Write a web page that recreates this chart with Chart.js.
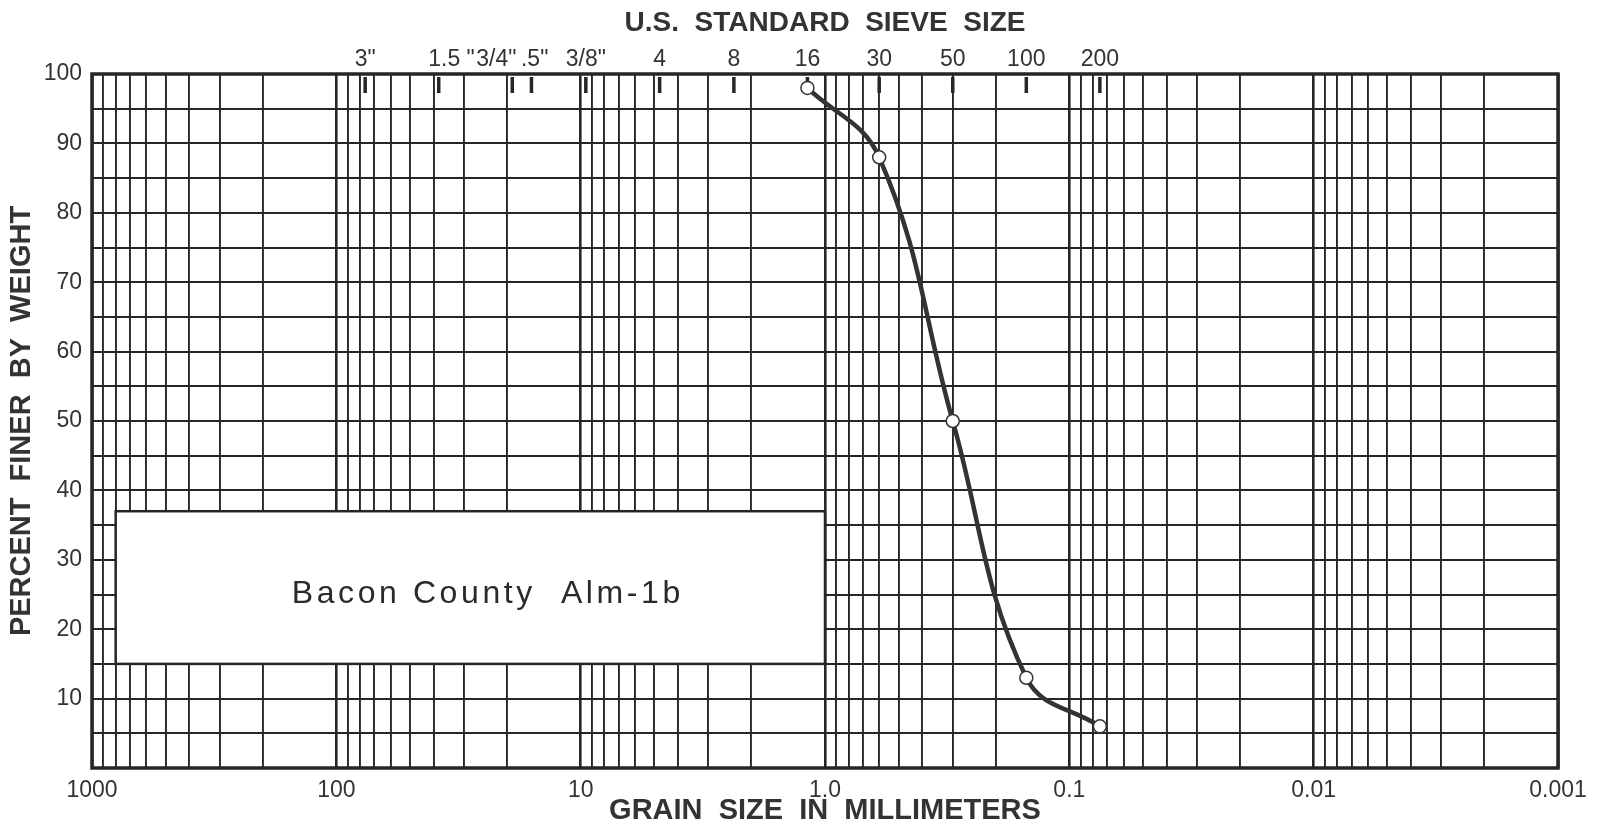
<!DOCTYPE html>
<html><head><meta charset="utf-8">
<script src="https://cdn.jsdelivr.net/npm/chart.js@4"></script>
<style>html,body{margin:0;padding:0;background:#fff}canvas{display:block}</style>
</head><body>
<canvas id="c" width="1602" height="825"></canvas>
<script>
// ---- data ----
const grainSizeMm = [1.18, 0.6, 0.3, 0.15, 0.075];
const percentFiner = [98, 88, 50, 13, 6];
const sieveLabels = ['3"', '    1.5 "', '3/4"     ', ' .5"', '3/8"', '4', '8', '16', '30', '50', '100', '200'];
const sieveSizesMm = [76.2, 38.1, 19.05, 15.9, 9.525, 4.75, 2.36, 1.18, 0.6, 0.3, 0.15, 0.075];
const decadeValues = [1000, 100, 10, 1, 0.1, 0.01, 0.001];
const decadeLabels = ['1000', '100', '10', '1.0', '0.1', '0.01', '0.001'];
const yLabelValues = [10, 20, 30, 40, 50, 60, 70, 80, 90, 100];
const sampleLabel = 'Bacon County  Alm-1b';
const labelBoxX = [800, 1.0];
const labelBoxY = [37, 15];
const labelTextAt = [24, 25];

// ---- grid helpers ----
const xGridValues = [];
for (let e = -3; e <= 2; e++) for (let m = 1; m <= 9; m++) xGridValues.push(+(m * Math.pow(10, e)).toPrecision(6));
xGridValues.push(1000);
const yGridValues = [];
for (let v = 0; v <= 100; v += 5) yGridValues.push(v);

const INK = '#262626';
const FONT = '"Liberation Sans", Arial, Helvetica, sans-serif';
const isDecade = v => Math.abs(Math.log10(v) - Math.round(Math.log10(v))) < 1e-9;

const overlay = {
  id: 'overlay',
  beforeDatasetsDraw(chart) {
    const {ctx, chartArea: a, scales: {x, y, x2}} = chart;
    ctx.save();
    // frame
    ctx.strokeStyle = INK; ctx.lineWidth = 3.5;
    ctx.strokeRect(a.left, a.top, a.right - a.left, a.bottom - a.top);
    // sieve tick marks
    ctx.lineWidth = 3.5;
    sieveSizesMm.forEach(v => {
      const px = x2.getPixelForValue(v);
      ctx.beginPath(); ctx.moveTo(px, a.top + 3); ctx.lineTo(px, a.top + 19); ctx.stroke();
    });
    // label box
    const bx0 = x.getPixelForValue(labelBoxX[0]), bx1 = x.getPixelForValue(labelBoxX[1]);
    const by0 = y.getPixelForValue(labelBoxY[0]), by1 = y.getPixelForValue(labelBoxY[1]);
    ctx.fillStyle = '#fff';
    ctx.fillRect(bx0, by0, bx1 - bx0, by1 - by0);
    ctx.lineWidth = 2.5;
    ctx.strokeRect(bx0, by0, bx1 - bx0, by1 - by0);
    ctx.fillStyle = '#2a2a2a';
    ctx.font = '32px ' + FONT;
    ctx.textAlign = 'center'; ctx.textBaseline = 'middle';
    try { ctx.letterSpacing = '3.6px'; } catch (e) {}
    ctx.fillText(sampleLabel, x.getPixelForValue(labelTextAt[0]), y.getPixelForValue(labelTextAt[1]));
    ctx.restore();
  }
};

new Chart(document.getElementById('c'), {
  type: 'line',
  data: {
    datasets: [{
      data: grainSizeMm.map((g, i) => ({x: g, y: percentFiner[i]})),
      borderColor: '#333',
      borderWidth: 4.5,
      tension: 0.4,
      pointRadius: 6.5,
      pointBorderWidth: 1.5,
      pointBackgroundColor: '#fff',
      pointBorderColor: '#333',
      clip: false,
      xAxisID: 'x', yAxisID: 'y'
    }]
  },
  options: {
    responsive: false,
    devicePixelRatio: 1,
    animation: false,
    layout: {padding: {left: 0, right: 44, top: 0, bottom: 0}},
    plugins: {legend: {display: false}, tooltip: {enabled: false}},
    scales: {
      x: {
        type: 'logarithmic', position: 'bottom', min: 0.001, max: 1000, reverse: true,
        afterBuildTicks: s => { s.ticks = xGridValues.map(v => ({value: v})); },
        afterFit: s => { s.height = 57; },
        grid: {color: INK, lineWidth: c => (c.tick && isDecade(c.tick.value)) ? 2.6 : 1.9, drawTicks: false},
        border: {display: false},
        ticks: {
          autoSkip: false, maxRotation: 0, minRotation: 0, padding: 11,
          color: '#333', font: {family: FONT, size: 23, lineHeight: 1},
          callback: v => { const i = decadeValues.findIndex(d => Math.abs(d - v) < d * 1e-6); return i >= 0 ? decadeLabels[i] : ''; }
        },
        title: {display: true, text: 'GRAIN  SIZE  IN  MILLIMETERS', color: '#333',
                font: {family: FONT, size: 29, weight: 'bold', lineHeight: 1}, padding: {top: 0, bottom: 0}}
      },
      x2: {
        type: 'logarithmic', position: 'top', min: 0.001, max: 1000, reverse: true,
        afterBuildTicks: s => { s.ticks = sieveSizesMm.map(v => ({value: v})); },
        afterFit: s => { s.height = 74; },
        grid: {display: false, drawOnChartArea: false},
        border: {display: false},
        ticks: {
          autoSkip: false, maxRotation: 0, minRotation: 0, padding: -5,
          color: '#333', font: {family: FONT, size: 23, lineHeight: 1},
          callback: (v, i) => sieveLabels[i]
        },
        title: {display: true, text: 'U.S.  STANDARD  SIEVE  SIZE', color: '#333',
                font: {family: FONT, size: 28, weight: 'bold', lineHeight: 1}, padding: {top: 9, bottom: 0}}
      },
      y: {
        type: 'linear', position: 'left', min: 0, max: 100,
        afterBuildTicks: s => { s.ticks = yGridValues.map(v => ({value: v})); },
        afterFit: s => { s.width = 92; },
        grid: {color: INK, lineWidth: 1.9, drawTicks: false},
        border: {display: false},
        ticks: {
          autoSkip: false, padding: 10, color: '#333', font: {family: FONT, size: 23, lineHeight: 1},
          callback: v => yLabelValues.includes(v) ? String(v) : ''
        },
        title: {display: true, text: 'PERCENT  FINER  BY  WEIGHT', color: '#333',
                font: {family: FONT, size: 29, weight: 'bold', lineHeight: 1}, padding: {top: 7.5, bottom: 0}}
      }
    }
  },
  plugins: [overlay]
});
</script>
</body></html>
